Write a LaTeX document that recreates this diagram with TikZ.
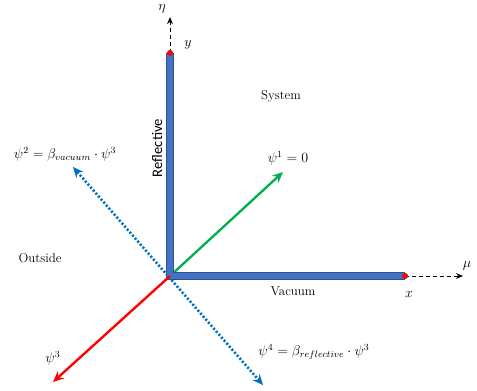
\documentclass[tikz,border=0pt]{standalone}
\usepackage{fontspec}
\newfontfamily\calibri{Carlito}
\definecolor{barBlue}{RGB}{68,114,196}
\definecolor{barEdge}{RGB}{47,82,143}
\definecolor{psiGreen}{RGB}{0,176,80}
\definecolor{psiBlue}{RGB}{0,112,192}
\usetikzlibrary{arrows.meta}

\begin{document}
\begin{tikzpicture}[x=0.03cm, y=-0.03cm,
    lb/.style={font=\fontsize{11}{13}\selectfont, inner sep=1pt},
    ml/.style={font=\fontsize{12}{14}\selectfont, inner sep=1pt},
    bar/.style={line width=5pt, draw=barBlue, line cap=round, line join=round,
                preaction={draw=barEdge, line width=6.5pt}},
    axis/.style={dashed, thick, -{Stealth[length=6pt, width=5pt]}},
    ray/.style={line width=2pt, -{Stealth[length=9pt, width=8pt]}},
    tipdot/.style={circle, fill=red, inner sep=0pt, minimum size=5pt}
  ]
  \useasboundingbox (0,0) rectangle (477,390);
  \coordinate (O) at (170,276);
  \coordinate (Y) at (170,53);
  \coordinate (X) at (405,276);
  \coordinate (etaEnd) at (170,17);
  \coordinate (muEnd) at (463,276);
  \coordinate (g1) at (283,172);
  \coordinate (r3) at (53,382);
  \coordinate (b2) at (73,167);
  \coordinate (b4) at (263,385);

  \draw[psiBlue, line width=2.2pt, dash pattern=on 1.8pt off 1.6pt,
        {Stealth[length=9pt, width=8pt]}-{Stealth[length=9pt, width=8pt]}] (b2) -- (b4);
  \draw[ray, psiGreen] (O) -- (g1);
  \draw[axis] (Y) -- (etaEnd);
  \draw[axis] (X) -- (muEnd);
  \draw[bar] (Y) -- (O) -- (X);
  \draw[ray, red] (O) -- (r3);
  \node[tipdot] (dy) at (Y) {};
  \node[tipdot] (dx) at (X) {};

  \node[ml] (eta) at (162,9) {$\eta$};
  \node[ml] (ly) at (188,45) {$y$};
  \node[ml] (mu) at (467,266) {$\mu$};
  \node[ml] (lx) at (409,294) {$x$};
  \node[lb] (sys) at (281,96) {System};
  \node[lb] (outs) at (40,258) {Outside};
  \node[lb] (vac) at (293,291) {Vacuum};
  \node[lb, rotate=90, font=\calibri\fontsize{12.5}{14}\selectfont] (refl) at (157,148) {Reflective};
  \node[ml] (p1) at (288,158) {$\psi^1 = 0$};
  \node[ml] (p2) at (65,154) {$\psi^2 = \beta_{vacuum}\cdot\psi^3$};
  \node[ml] (p3) at (53,358) {$\psi^3$};
  \node[ml] (p4) at (314,352) {$\psi^4 = \beta_{reflective}\cdot\psi^3$};
\end{tikzpicture}
\end{document}
